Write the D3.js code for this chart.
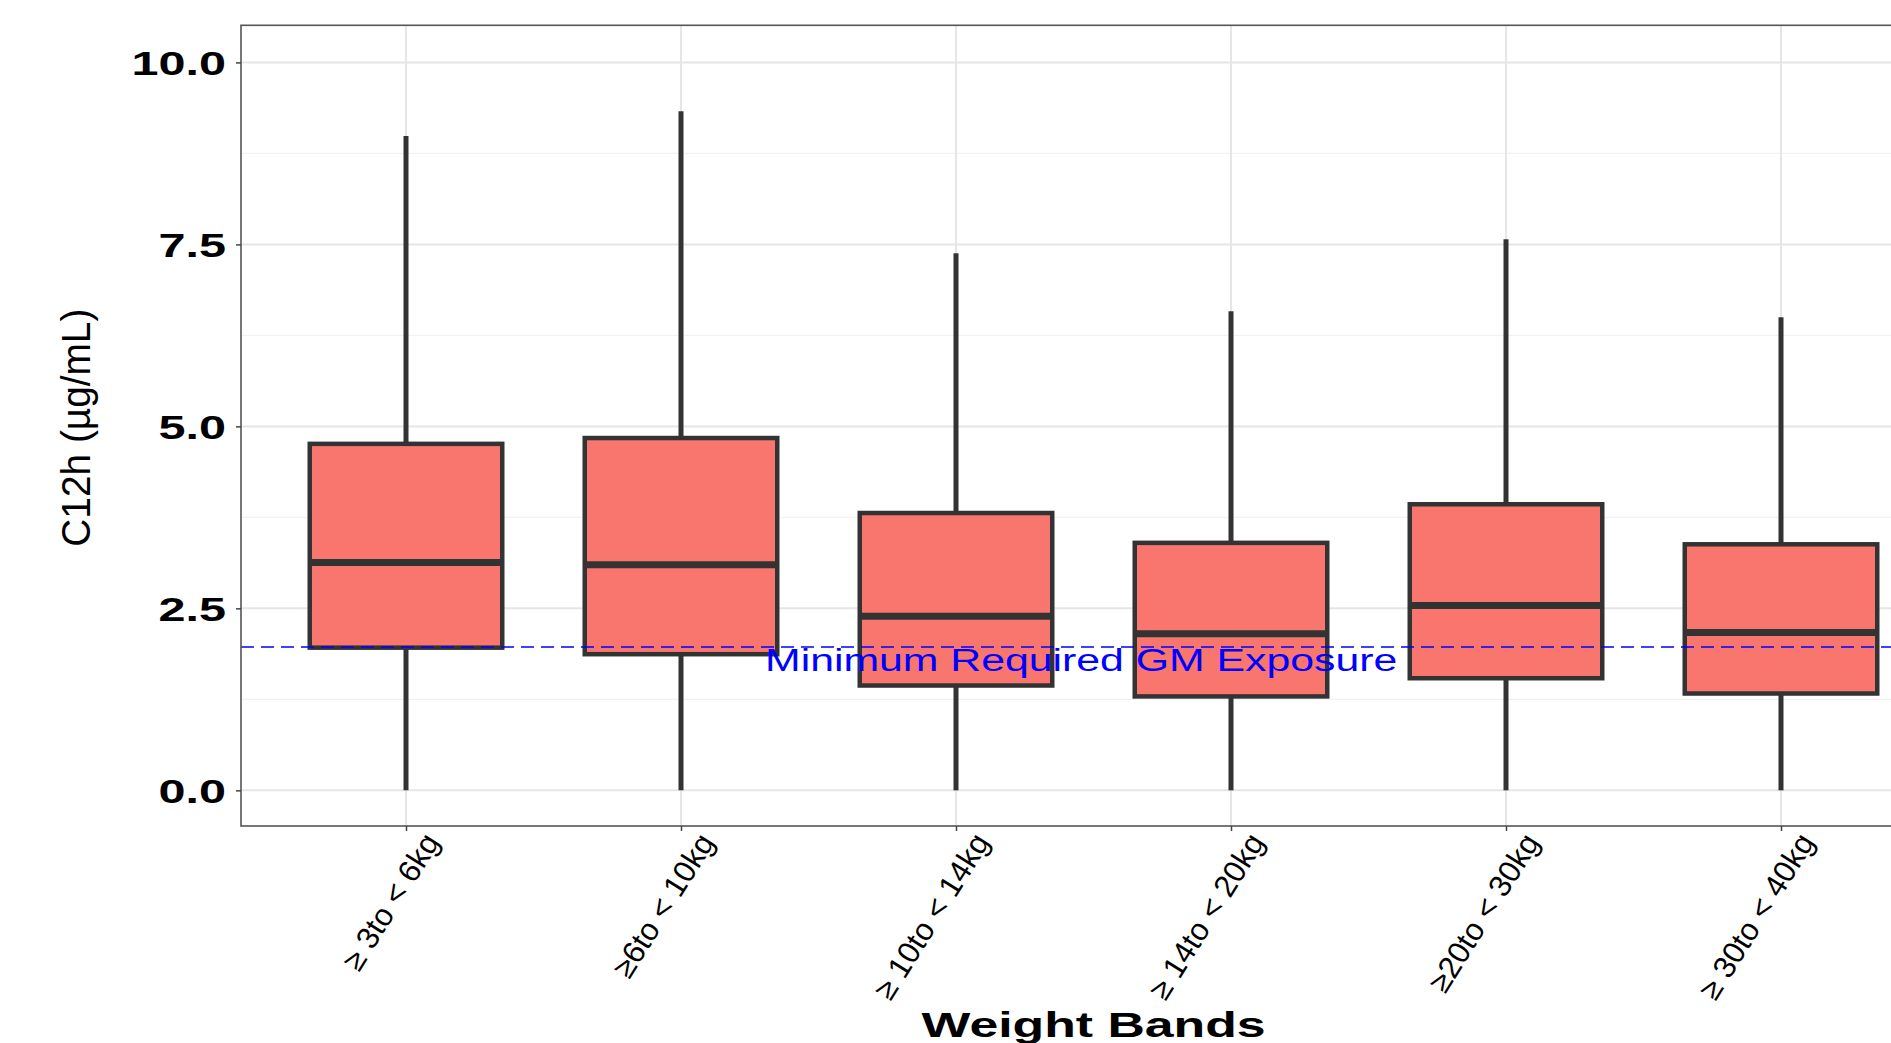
<!DOCTYPE html>
<html>
<head>
<meta charset="utf-8">
<script src="https://cdn.jsdelivr.net/npm/d3@7"></script>
<style>
  html, body { margin: 0; padding: 0; background: #ffffff; }
  svg { display: block; }
  text { font-family: "Liberation Sans", Arial, sans-serif; }
</style>
</head>
<body>
<svg id="chart" width="1891" height="1043"></svg>
<script>
// Weight bands and the box-plot summaries of C12h for each band
const categories = ["≥ 3to < 6kg", "≥6to < 10kg", "≥ 10to < 14kg", "≥ 14to < 20kg", "≥20to < 30kg", "≥ 30to < 40kg"];
const whiskerLow  = [0, 0, 0, 0, 0, 0];
const q1          = [1.96, 1.87, 1.44, 1.29, 1.54, 1.33];
const median      = [3.13, 3.10, 2.39, 2.15, 2.54, 2.17];
const q3          = [4.76, 4.84, 3.81, 3.40, 3.93, 3.38];
const whiskerHigh = [8.99, 9.33, 7.38, 6.58, 7.57, 6.50];

// Y axis ticks and the reference exposure line
const yTicks = [0, 2.5, 5, 7.5, 10];
const yMinor = [1.25, 3.75, 6.25, 8.75];
const minExposure = 1.97;
const minExposureLabel = "Minimum Required GM Exposure";

const W = 1891, H = 1043;
const STRETCH = 1.45;           // horizontal widening applied to text glyphs
const panelLeft = 241, panelTop = 25.3, panelBottom = 826;
const step = 275;
const panelRight = panelLeft + 6.2 * step;

const svg = d3.select("#chart");
svg.append("rect").attr("width", W).attr("height", H).attr("fill", "#ffffff");

const x = d3.scalePoint().domain(categories).range([panelLeft, panelRight]).padding(0.6);
const y = d3.scaleLinear().domain([-0.49, 10.51]).range([panelBottom, panelTop]);

const boxes = categories.map((c, i) => ({
  cat: c, lo: whiskerLow[i], q1: q1[i], med: median[i], q3: q3[i], hi: whiskerHigh[i]
}));

// panel background + grid
const panel = svg.append("g");
panel.append("rect")
  .attr("x", panelLeft).attr("y", panelTop)
  .attr("width", panelRight - panelLeft).attr("height", panelBottom - panelTop)
  .attr("fill", "#ffffff");

panel.selectAll("line.minor").data(yMinor).join("line")
  .attr("x1", panelLeft).attr("x2", panelRight)
  .attr("y1", d => y(d)).attr("y2", d => y(d))
  .attr("stroke", "#f2f2f2").attr("stroke-width", 1.2);
panel.selectAll("line.major").data(yTicks).join("line")
  .attr("x1", panelLeft).attr("x2", panelRight)
  .attr("y1", d => y(d)).attr("y2", d => y(d))
  .attr("stroke", "#e6e6e6").attr("stroke-width", 2);
panel.selectAll("line.vgrid").data(categories).join("line")
  .attr("x1", d => x(d)).attr("x2", d => x(d))
  .attr("y1", panelTop).attr("y2", panelBottom)
  .attr("stroke", "#e6e6e6").attr("stroke-width", 2);

// boxes
const boxW = 0.7 * step;
const g = svg.append("g");
const bx = g.selectAll("g.box").data(boxes).join("g");
bx.append("line")
  .attr("x1", d => x(d.cat)).attr("x2", d => x(d.cat))
  .attr("y1", d => y(d.hi)).attr("y2", d => y(d.q3))
  .attr("stroke", "#333333").attr("stroke-width", 5);
bx.append("line")
  .attr("x1", d => x(d.cat)).attr("x2", d => x(d.cat))
  .attr("y1", d => y(d.q1)).attr("y2", d => y(d.lo))
  .attr("stroke", "#333333").attr("stroke-width", 5);
bx.append("rect")
  .attr("x", d => x(d.cat) - boxW / 2).attr("width", boxW)
  .attr("y", d => y(d.q3)).attr("height", d => y(d.q1) - y(d.q3))
  .attr("fill", "#F8766D").attr("stroke", "#333333").attr("stroke-width", 4.5);
bx.append("line")
  .attr("x1", d => x(d.cat) - boxW / 2).attr("x2", d => x(d.cat) + boxW / 2)
  .attr("y1", d => y(d.med)).attr("y2", d => y(d.med))
  .attr("stroke", "#333333").attr("stroke-width", 7);

// minimum exposure reference line and its label
svg.append("line")
  .attr("x1", panelLeft).attr("x2", panelRight)
  .attr("y1", y(minExposure)).attr("y2", y(minExposure))
  .attr("stroke", "#0000ff").attr("stroke-width", 1.6)
  .attr("stroke-dasharray", "13,7");
const labelX = x(categories[2]) + 0.455 * step;
const labelY = y(1.79);
svg.append("text")
  .attr("transform", `translate(${labelX},${labelY}) scale(1.38,1)`)
  .attr("text-anchor", "middle").attr("dy", "0.36em")
  .attr("font-size", 31).attr("fill", "#0000ff")
  .text(minExposureLabel);

// panel border
svg.append("rect")
  .attr("x", panelLeft).attr("y", panelTop)
  .attr("width", panelRight - panelLeft).attr("height", panelBottom - panelTop)
  .attr("fill", "none").attr("stroke", "#555555").attr("stroke-width", 1.6);

// y axis
const yAxis = svg.append("g")
  .attr("transform", `translate(${panelLeft},0)`)
  .call(d3.axisLeft(y).tickValues(yTicks).tickFormat(d3.format(".1f")).tickSize(5).tickPadding(0));
yAxis.select(".domain").remove();
yAxis.selectAll(".tick line").attr("stroke", "#444444").attr("stroke-width", 1.5);
yAxis.selectAll(".tick text")
  .attr("x", null).attr("dy", null)
  .attr("transform", `translate(-15,12) scale(${STRETCH},1)`)
  .attr("text-anchor", "end")
  .attr("font-family", "'Liberation Sans', Arial, sans-serif")
  .attr("font-size", 33.5).attr("font-weight", 700).attr("fill", "#000000");

// x axis
const xAxis = svg.append("g")
  .attr("transform", `translate(0,${panelBottom})`)
  .call(d3.axisBottom(x).tickSize(5).tickPadding(0));
xAxis.select(".domain").remove();
xAxis.selectAll(".tick line").attr("stroke", "#444444").attr("stroke-width", 1.5);
xAxis.selectAll(".tick text")
  .attr("y", null).attr("dy", null)
  .attr("transform", `translate(34,16) rotate(-58)`)
  .attr("text-anchor", "end")
  .attr("font-family", "'Liberation Sans', Arial, sans-serif")
  .attr("font-size", 31).attr("font-weight", 400).attr("fill", "#000000");

// axis titles
svg.append("text")
  .attr("transform", `translate(${(panelLeft + panelRight) / 2},1037) scale(${STRETCH},1)`)
  .attr("text-anchor", "middle")
  .attr("font-size", 35.7).attr("font-weight", 700).attr("fill", "#000000")
  .text("Weight Bands");

svg.append("text")
  .attr("transform", `translate(90,${(panelTop + panelBottom) / 2 + 2}) rotate(-90)`)
  .attr("text-anchor", "middle")
  .attr("font-size", 40).attr("fill", "#000000")
  .attr("textLength", 238).attr("lengthAdjust", "spacingAndGlyphs")
  .text("C12h (µg/mL)");
</script>
</body>
</html>
